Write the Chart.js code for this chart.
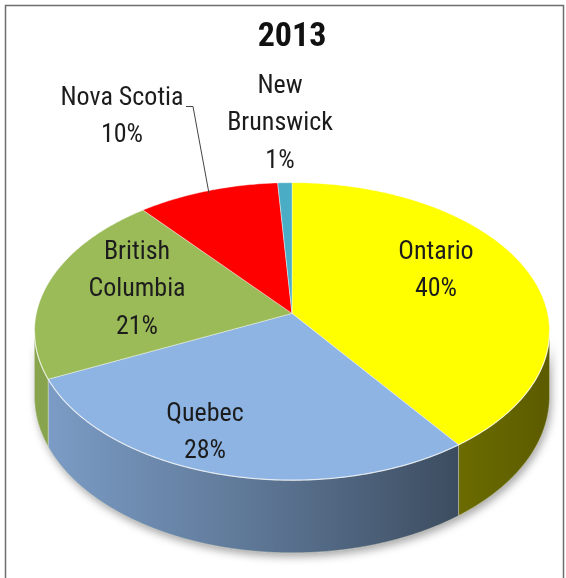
<!DOCTYPE html>
<html>
<head>
<meta charset="utf-8">
<script src="https://cdn.jsdelivr.net/npm/chart.js@4/dist/chart.umd.min.js"></script>
<style>
  html, body { margin: 0; padding: 0; background: #ffffff; }
  #c { display: block; }
</style>
</head>
<body>
<canvas id="c" width="566" height="578"></canvas>
<script>
// ---- data ----
const chartTitle = '2013';
const categories = ['Ontario', 'Quebec', 'British Columbia', 'Nova Scotia', 'New Brunswick'];
const shares = [40, 28, 21, 10, 1];
const sliceColors = ['#FFFF00', '#8EB4E3', '#9BBB59', '#FF0000', '#4BACC6'];

// ---- styling / layout (not data) ----
const FONT = "'Liberation Sans Narrow', 'Arial Narrow', 'Roboto Condensed', 'Liberation Sans', sans-serif";
const labelLines = {
  'British Columbia': ['British', 'Columbia'],
  'New Brunswick': ['New', 'Brunswick']
};
const labelAnchors = [[436, 252], [205, 414], [137, 252], [122, 98], [280, 86]];
const LINE_GAP = 37.5;

const P = 0.121;      // perspective strength
const KY = 0.5734;    // vertical squash of the tilted disc
const DEPTH = 0.25;   // side height relative to radius

function hexToRgb(h) {
  const n = parseInt(h.slice(1), 16);
  return [(n >> 16) & 255, (n >> 8) & 255, n & 255];
}
function shade(h, f) {
  const [r, g, b] = hexToRgb(h);
  return `rgb(${Math.round(r * f)},${Math.round(g * f)},${Math.round(b * f)})`;
}
function proj(el, a, r, h) {
  const R = el.outerRadius;
  const u = r * Math.cos(a), v = r * Math.sin(a);
  const d = 1 - P * v;
  return [el.x + R * u / d, el.y + (R * KY * v + h * DEPTH * R) / d];
}
function rimPath(ctx, el, a1, a2, h, first) {
  const n = Math.max(2, Math.ceil(Math.abs(a2 - a1) / 0.01));
  for (let i = 0; i <= n; i++) {
    const a = a1 + (a2 - a1) * i / n;
    const [x, y] = proj(el, a, 1, h);
    if (i === 0 && first) ctx.moveTo(x, y); else ctx.lineTo(x, y);
  }
}

const pie3d = {
  id: 'pie3d',
  beforeDraw(chart) {
    const ctx = chart.ctx;
    ctx.save();
    ctx.strokeStyle = '#6e6e6e';
    ctx.lineWidth = 1.5;
    ctx.beginPath();
    ctx.moveTo(5.5, 590); ctx.lineTo(5.5, 5.5); ctx.lineTo(563.5, 5.5); ctx.lineTo(563.5, 590);
    ctx.stroke();
    ctx.restore();
  },
  beforeDatasetsDraw(chart) {
    const ctx = chart.ctx;
    const meta = chart.getDatasetMeta(0);
    const els = meta.data;
    const el0 = els[0];
    const aMin = Math.asin(P), aMax = Math.PI - Math.asin(P);

    ctx.save();
    // soft shadow under the disc
    ctx.save();
    ctx.shadowColor = 'rgba(0,0,0,0.35)';
    ctx.shadowBlur = 8;
    ctx.shadowOffsetY = 4;
    ctx.shadowOffsetX = 2;
    ctx.fillStyle = '#888';
    ctx.beginPath();
    rimPath(ctx, el0, aMin, aMax, 0, true);
    rimPath(ctx, el0, aMax, aMin, 1, false);
    ctx.closePath();
    ctx.fill();
    ctx.restore();

    // sides
    const left = el0.x - el0.outerRadius, right = el0.x + el0.outerRadius;
    els.forEach((el, i) => {
      const s = Math.max(el.startAngle, aMin), e = Math.min(el.endAngle, aMax);
      if (e <= s) return;
      const col = sliceColors[i];
      const g = ctx.createLinearGradient(left, 0, right, 0);
      g.addColorStop(0, shade(col, 0.88));
      g.addColorStop(0.5, shade(col, 0.62));
      g.addColorStop(0.83, shade(col, 0.42));
      g.addColorStop(1, shade(col, 0.36));
      ctx.beginPath();
      rimPath(ctx, el, s, e, 0, true);
      rimPath(ctx, el, e, s, 1, false);
      ctx.closePath();
      ctx.fillStyle = g;
      ctx.fill();
      ctx.strokeStyle = 'rgba(255,255,230,0.35)';
      ctx.lineWidth = 1;
      ctx.stroke();
    });

    // top faces
    els.forEach((el, i) => {
      ctx.beginPath();
      const [cx, cy] = proj(el, 0, 0, 0);
      ctx.moveTo(cx, cy);
      rimPath(ctx, el, el.startAngle, el.endAngle, 0, false);
      ctx.closePath();
      ctx.fillStyle = el.options.backgroundColor;
      ctx.fill();
      ctx.strokeStyle = 'rgba(255,255,255,0.4)';
      ctx.lineWidth = 1;
      ctx.stroke();
    });

    // highlight along the front top rim
    ctx.beginPath();
    rimPath(ctx, el0, aMin, aMax, 0, true);
    ctx.strokeStyle = 'rgba(255,255,255,0.55)';
    ctx.lineWidth = 1.2;
    ctx.stroke();
    ctx.restore();
    return false;
  },
  afterDraw(chart) {
    const ctx = chart.ctx;
    const meta = chart.getDatasetMeta(0);
    const total = shares.reduce((a, b) => a + b, 0);
    ctx.save();
    ctx.fillStyle = '#1c1c1c';
    ctx.font = `26px ${FONT}`;
    ctx.textAlign = 'center';
    ctx.textBaseline = 'middle';
    categories.forEach((name, i) => {
      const lines = (labelLines[name] || [name]).slice();
      lines.push(Math.round(shares[i] / total * 100) + '%');
      const [x, y] = labelAnchors[i];
      lines.forEach((t, k) => ctx.fillText(t, x, y + k * LINE_GAP));
    });
    // leader line for Nova Scotia
    const ns = meta.data[3];
    const mid = (ns.startAngle + ns.endAngle) / 2;
    const [ex, ey] = proj(ns, mid, 0.98, 0);
    ctx.strokeStyle = '#444';
    ctx.lineWidth = 1;
    ctx.beginPath();
    ctx.moveTo(186, 106.5);
    ctx.lineTo(193, 106.5);
    ctx.lineTo(ex, ey);
    ctx.stroke();
    ctx.restore();
  }
};

new Chart(document.getElementById('c'), {
  type: 'pie',
  data: {
    labels: categories,
    datasets: [{
      data: shares,
      backgroundColor: sliceColors,
      borderWidth: 0
    }]
  },
  options: {
    responsive: false,
    animation: false,
    layout: { padding: { left: 36, right: 18, top: 0, bottom: 9 } },
    plugins: {
      legend: { display: false },
      tooltip: { enabled: false },
      title: {
        display: true,
        text: chartTitle,
        color: '#111',
        font: { family: FONT, size: 34, weight: 'bold', lineHeight: 1.2 },
        padding: { top: 17, bottom: 0 }
      }
    }
  },
  plugins: [pie3d]
});
</script>
</body>
</html>
